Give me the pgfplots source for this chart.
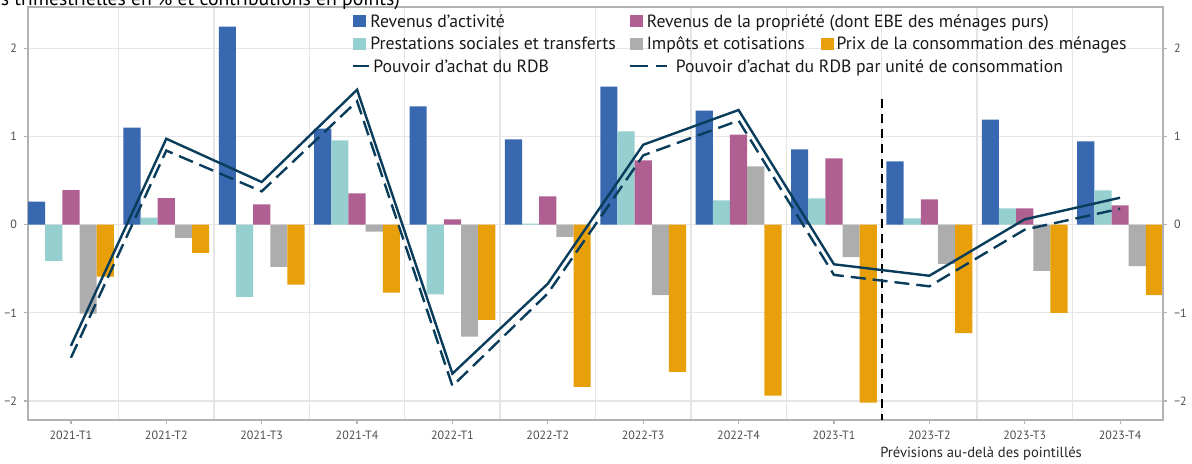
\documentclass[border=0pt]{standalone}
\usepackage{pgfplots}
\pgfplotsset{compat=1.18}
\usepackage{fontspec}
\setmainfont{PT Sans}
\definecolor{cblue}{RGB}{55,104,176}
\definecolor{ccyan}{RGB}{149,207,208}
\definecolor{cmag}{RGB}{175,95,145}
\definecolor{cgray}{RGB}{174,173,174}
\definecolor{corange}{RGB}{232,160,10}
\definecolor{cnavy}{RGB}{10,61,92}
\definecolor{gridgray}{RGB}{229,229,229}
\definecolor{axisgray}{RGB}{178,178,178}
\definecolor{ticktext}{RGB}{77,77,77}
\pgfplotsset{
  sqlegend/.style={legend image code/.code={\fill[##1] (0pt,-3pt) rectangle (6.5pt,3pt); \path (0pt,0pt) -- (8pt,0pt);}},
  sollegend/.style={legend image code/.code={\draw[##1] (0pt,0pt) -- (6.5pt,0pt); \path (0pt,0pt) -- (8pt,0pt);}},
  dashlegend/.style={legend image code/.code={\draw[##1,overlay] (0pt,0pt) -- (18.5pt,0pt); \path (0pt,0pt) -- (8pt,0pt);}},
  commonaxis/.style={
    at={(14pt,21.5pt)}, anchor=south west,
    scale only axis, width=567.5pt, height=206.5pt,
    xmin=-0.45, xmax=11.45, ymin=-2.216, ymax=2.468,
    ytick={-2,-1,0,1,2}, yticklabels={−2,−1,0,1,2},
    tick align=outside, major tick length=2pt, minor tick length=0pt,
    tick style={color=axisgray, line width=0.6pt},
    axis line style={color=axisgray, line width=0.8pt},
    ticklabel style={font=\fontsize{6}{7}\selectfont, text=ticktext},
  }
}
\begin{document}
\begin{tikzpicture}
\begin{axis}[
  commonaxis,
  xtick={0,...,11},
  xticklabels={2021-T1,2021-T2,2021-T3,2021-T4,2022-T1,2022-T2,2022-T3,2022-T4,2023-T1,2023-T2,2023-T3,2023-T4},
  minor xtick={0.5,1.5,...,10.5},
  xminorgrids=true, ymajorgrids=true,
  grid style={color=gridgray, line width=0.7pt},
  minor grid style={color=gridgray, line width=0.7pt},
  ytick pos=left, xtick pos=bottom,
  xlabel={Prévisions au-delà des pointillés},
  xlabel style={at={(axis description cs:0.8397,0)}, anchor=base, yshift=-18.5pt, font=\fontsize{7.3}{8}\selectfont, text=black!85},
  legend columns=3,
  legend cell align=left,
  legend style={at={(axis description cs:0.28546,0.98547)}, anchor=north west,
    draw=none, fill=none, inner sep=0pt, outer sep=0pt,
    column sep=0pt, row sep=3.25pt,
    /tikz/every even column/.style={column sep=0pt},
    /tikz/every odd column/.style={column sep=0pt},
    nodes={inner sep=0pt, text height=7pt, text depth=1pt, font=\fontsize{8.85}{10}\selectfont, text=black!90}},
]
% Revenus d'activite
\addplot[ybar, bar width=0.18, bar shift=-0.36, fill=cblue, draw=none, forget plot] coordinates {(0,0.26)(1,1.10)(2,2.245)(3,1.09)(4,1.34)(5,0.966)(6,1.566)(7,1.294)(8,0.853)(9,0.717)(10,1.19)(11,0.943)};
% Prestations sociales
\addplot[ybar, bar width=0.18, bar shift=-0.18, fill=ccyan, draw=none, forget plot] coordinates {(0,-0.41)(1,0.08)(2,-0.82)(3,0.955)(4,-0.79)(5,0.01)(6,1.057)(7,0.275)(8,0.298)(9,0.071)(10,0.185)(11,0.388)};
% Revenus de la propriete
\addplot[ybar, bar width=0.18, bar shift=0, fill=cmag, draw=none, forget plot] coordinates {(0,0.39)(1,0.30)(2,0.23)(3,0.355)(4,0.06)(5,0.32)(6,0.728)(7,1.02)(8,0.75)(9,0.286)(10,0.185)(11,0.219)};
% Impots et cotisations
\addplot[ybar, bar width=0.18, bar shift=0.18, fill=cgray, draw=none, forget plot] coordinates {(0,-1.01)(1,-0.15)(2,-0.48)(3,-0.08)(4,-1.27)(5,-0.14)(6,-0.80)(7,0.66)(8,-0.37)(9,-0.446)(10,-0.525)(11,-0.47)};
% Prix de la consommation
\addplot[ybar, bar width=0.18, bar shift=0.36, fill=corange, draw=none, forget plot] coordinates {(0,-0.59)(1,-0.32)(2,-0.68)(3,-0.77)(4,-1.08)(5,-1.84)(6,-1.67)(7,-1.94)(8,-2.02)(9,-1.23)(10,-1.0)(11,-0.80)};
% forecast separator
\addplot[black, line width=1.1pt, dash pattern=on 4.5pt off 3pt, forget plot] coordinates {(8.5,1.425)(8.5,-2.216)};
% Pouvoir d'achat du RDB
\addplot[cnavy, line width=1.2pt, forget plot] coordinates {(0,-1.375)(1,0.974)(2,0.483)(3,1.53)(4,-1.69)(5,-0.67)(6,0.906)(7,1.30)(8,-0.45)(9,-0.58)(10,0.06)(11,0.305)};
% Pouvoir d'achat par UC
\addplot[cnavy, line width=1.2pt, dash pattern=on 7.5pt off 3.5pt, forget plot] coordinates {(0,-1.51)(1,0.84)(2,0.377)(3,1.40)(4,-1.83)(5,-0.78)(6,0.785)(7,1.18)(8,-0.57)(9,-0.70)(10,-0.057)(11,0.18)};
% legend
\addlegendimage{sqlegend, fill=cblue, draw=none}
\addlegendentry{\makebox[129pt][l]{Revenus d’activité}}
\addlegendimage{sqlegend, fill=cmag, draw=none}
\addlegendentry{\makebox[86.85pt][l]{Revenus de la propriété (dont EBE des ménages purs)}}
\addlegendimage{empty legend}
\addlegendentry{}
\addlegendimage{sqlegend, fill=ccyan, draw=none}
\addlegendentry{\makebox[129pt][l]{Prestations sociales et transferts}}
\addlegendimage{sqlegend, fill=cgray, draw=none}
\addlegendentry{\makebox[86.85pt][l]{Impôts et cotisations}}
\addlegendimage{sqlegend, fill=corange, draw=none}
\addlegendentry{Prix de la consommation des ménages}
\addlegendimage{sollegend, cnavy, line width=1.2pt}
\addlegendentry{\makebox[129pt][l]{\hspace*{1.5pt}Pouvoir d’achat du RDB}}
\addlegendimage{dashlegend, cnavy, line width=1.2pt, dash pattern=on 9pt off 4pt}
\addlegendentry{\makebox[86.85pt][l]{\hspace*{14.5pt}Pouvoir d’achat du RDB par unité de consommation}}
\end{axis}
\begin{axis}[
  commonaxis,
  axis x line=none, axis y line*=right,
  ytick pos=right, yticklabel pos=right,
]
\end{axis}
\node[anchor=base east, font=\fontsize{9.85}{11}\selectfont, text=black] at (203.5pt,228.75pt) {(variations trimestrielles en \% et contributions en points)};
\pgfresetboundingbox
\useasboundingbox (0pt,0pt) rectangle (596pt,231.5pt);
\end{tikzpicture}
\end{document}
